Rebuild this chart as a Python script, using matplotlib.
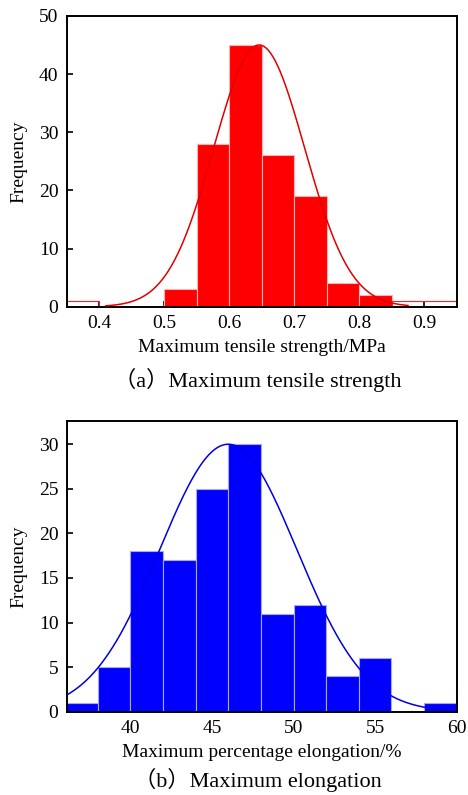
import numpy as np
import matplotlib.pyplot as plt

plt.rcParams['font.family'] = ['Liberation Serif', 'Noto Sans CJK SC']

# (a) tensile strength histogram, bin edges on the left, width 0.05 MPa
ts_left = [0.50, 0.55, 0.60, 0.65, 0.70, 0.75, 0.80]
ts_count = [3, 28, 45, 26, 19, 4, 2]
ts_width = 0.05
# empty outline bins at the tails
ts_tail_left = [0.35, 0.85]
ts_tail_width = [0.05, 0.10]
ts_tail_count = [1, 1]
# fitted normal curve
ts_mu, ts_sigma, ts_peak = 0.646, 0.07, 45
ts_curve_range = (0.41, 0.875)

# (b) elongation histogram, width 2 %
el_left = [36, 38, 40, 42, 44, 46, 48, 50, 52, 54, 58]
el_count = [1, 5, 18, 17, 25, 30, 11, 12, 4, 6, 1]
el_width = 2
el_mu, el_sigma, el_peak = 46.0, 4.2, 30
el_curve_range = (36.1, 59.6)


def gauss(x, mu, sigma, peak):
    return peak * np.exp(-(x - mu) ** 2 / (2 * sigma ** 2))


def style_axes(ax):
    for s in ax.spines.values():
        s.set_linewidth(1.4)
    ax.tick_params(direction='in', length=4, width=1.2, labelsize=14,
                   top=False, right=False, pad=6)


fig = plt.figure(figsize=(4.68, 7.95), dpi=100)

# top panel
ax1 = fig.add_axes([0.1425, 0.6142, 0.8335, 0.3658])
ax1.bar(ts_left, ts_count, width=ts_width, align='edge', color='#ff0000',
        edgecolor='#ffb3b3', linewidth=0.8, zorder=2)
ax1.bar(ts_tail_left, ts_tail_count, width=ts_tail_width, align='edge',
        color='none', edgecolor='#ff2020', linewidth=0.8, zorder=2)
x1 = np.linspace(*ts_curve_range, 300)
ax1.plot(x1, gauss(x1, ts_mu, ts_sigma, ts_peak), color='#e00000', lw=1.1, zorder=3)
ax1.set_xlim(0.35, 0.95)
ax1.set_ylim(0, 50)
ax1.set_xticks([0.4, 0.5, 0.6, 0.7, 0.8, 0.9])
ax1.set_yticks([0, 10, 20, 30, 40, 50])
style_axes(ax1)
ax1.set_xlabel('Maximum tensile strength/MPa', fontsize=14, labelpad=5)
ax1.set_ylabel('Frequency', fontsize=14, labelpad=8)
fig.text(0.55, 0.522, '（a）Maximum tensile strength', ha='center', va='center',
         fontsize=16)

# bottom panel
ax2 = fig.add_axes([0.1425, 0.1048, 0.8335, 0.3656])
ax2.bar(el_left, el_count, width=el_width, align='edge', color='#0000ff',
        edgecolor='#a8a8ff', linewidth=0.8, zorder=2)
x2 = np.linspace(*el_curve_range, 300)
ax2.plot(x2, gauss(x2, el_mu, el_sigma, el_peak), color='#0000e0', lw=1.1, zorder=3)
ax2.set_xlim(36.1, 60)
ax2.set_ylim(0, 32.6)
ax2.set_xticks([40, 45, 50, 55, 60])
ax2.set_yticks([0, 5, 10, 15, 20, 25, 30])
style_axes(ax2)
ax2.set_xlabel('Maximum percentage elongation/%', fontsize=14, labelpad=5)
ax2.set_ylabel('Frequency', fontsize=14, labelpad=8)
fig.text(0.55, 0.004, '（b）Maximum elongation', ha='center', va='bottom',
         fontsize=16)

fig.savefig('out.png', dpi=100)
